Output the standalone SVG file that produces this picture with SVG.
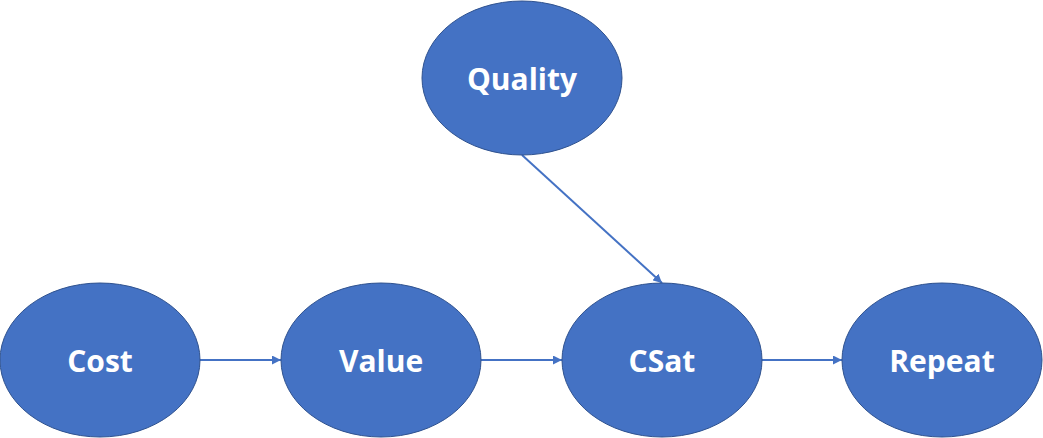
<svg xmlns="http://www.w3.org/2000/svg" width="1043" height="438" viewBox="0 0 1043 438">
<style>
.node ellipse{fill:#4472C4;stroke:#2F528F;stroke-width:1}
.node text{fill:#fff;font-family:"Open Sans","Liberation Sans",sans-serif;font-weight:bold;font-size:30px;text-anchor:middle}
.edge{stroke:#4472C4;stroke-width:2;fill:none;marker-end:url(#ah)}
</style>
<defs>
<marker id="ah" viewBox="0 0 10 10" refX="10" refY="5" markerWidth="4.5" markerHeight="4.5" orient="auto" markerUnits="strokeWidth">
<path d="M0,0 L10,5 L0,10 z" fill="#4472C4"/>
</marker>
</defs>
<g id="connectors">
<line class="edge" x1="200" y1="360" x2="281" y2="360"/>
<line class="edge" x1="481" y1="360" x2="562" y2="360"/>
<line class="edge" x1="762" y1="360" x2="842" y2="360"/>
<line class="edge" x1="522" y1="155" x2="662" y2="283"/>
</g>
<g id="quality" class="node"><ellipse cx="522" cy="78" rx="100" ry="77"/><text x="522" y="90">Quality</text></g>
<g id="cost" class="node"><ellipse cx="100" cy="360" rx="100" ry="77"/><text x="100" y="372">Cost</text></g>
<g id="value" class="node"><ellipse cx="381" cy="360" rx="100" ry="77"/><text x="381" y="372">Value</text></g>
<g id="csat" class="node"><ellipse cx="662" cy="360" rx="100" ry="77"/><text x="662" y="372">CSat</text></g>
<g id="repeat" class="node"><ellipse cx="942" cy="360" rx="100" ry="77"/><text x="942" y="372">Repeat</text></g>
</svg>
